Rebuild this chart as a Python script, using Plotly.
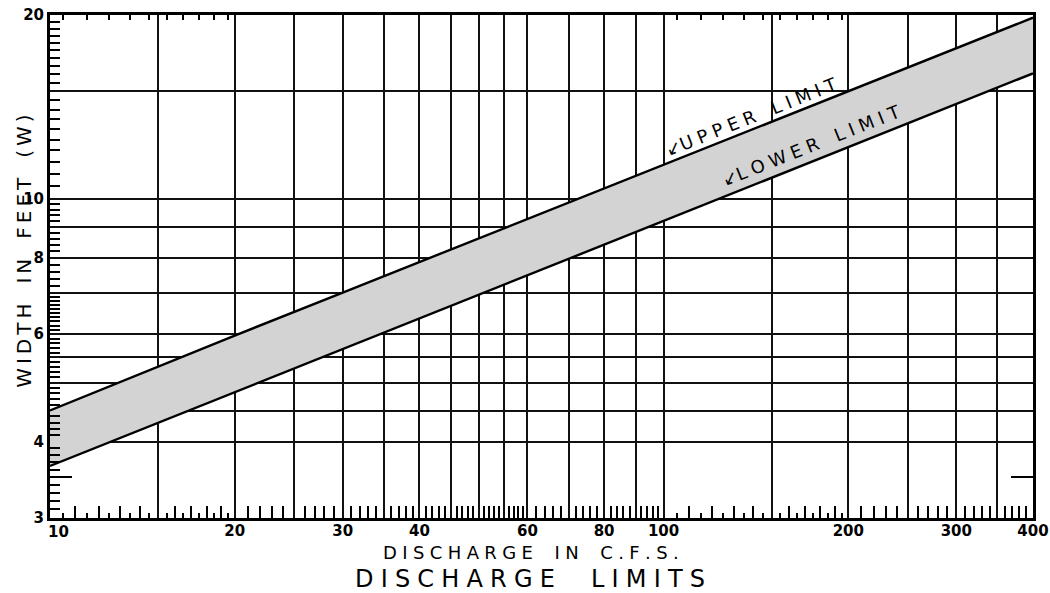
import plotly.graph_objects as go

# ---- data ----
discharge_cfs = [10, 20, 30, 50, 100, 200, 400]
upper_limit_ft = [4.5, 5.97, 7.02, 8.61, 11.37, 15.0, 19.8]
lower_limit_ft = [3.65, 4.82, 5.68, 6.97, 9.2, 12.13, 16.05]

x_grid = [10, 15, 20, 25, 30, 35, 40, 45, 50, 55, 60, 70, 80, 90, 100, 150, 200, 250, 300, 350, 400]
x_labels = ["", "", "20", "", "30", "", "40", "", "", "", "60", "", "80", "", "100", "", "200", "", "300", "", "400"]
x_first_label = "10"
y_grid = [3, 4, 4.5, 5, 5.5, 6, 7, 8, 9, 10, 15, 20]
y_labels = ["3", "4", "", "", "", "6", "", "8", "", "10", "", "20"]

# minor tick marks along the frame
x_long = ([11, 12, 13, 14, 16, 17, 18, 19, 21, 22, 23, 24, 26, 27, 28, 29, 31, 32, 33, 34,
           36, 37, 38, 39, 41, 42, 43, 44, 46, 47, 48, 49, 51, 52, 53, 54, 56, 57, 58, 59,
           62, 64, 66, 68, 72, 74, 76, 78, 82, 84, 86, 88, 92, 94, 96, 98,
           110, 120, 130, 140, 160, 170, 180, 190, 210, 220, 230, 240, 260, 270, 280, 290,
           310, 320, 330, 340, 360, 370, 380, 390])
x_short = [10.5, 11.5, 12.5, 13.5, 14.5, 15.5, 16.5, 17.5, 18.5, 19.5,
           105, 115, 125, 135, 145, 155, 165, 175, 185, 195]
y_ticks = ([round(3 + 0.1 * i, 2) for i in range(1, 10) if i != 5]
           + [round(4 + 0.1 * i, 2) for i in range(1, 10) if i != 5]
           + [round(5 + 0.1 * i, 2) for i in range(1, 10) if i != 5]
           + [round(6 + 0.1 * i, 2) for i in range(1, 10)]
           + [round(7 + 0.2 * i, 2) for i in range(1, 5)]
           + [round(8 + 0.2 * i, 2) for i in range(1, 10) if i != 5]
           + [round(10 + 0.5 * i, 2) for i in range(1, 20) if i != 10])
y_long = [3.5]

FONT = "DejaVu Sans"


def spaced(s, sep="\u2009", wsep="\u2003"):
    return wsep.join(sep.join(w) for w in s.split(" "))


fig = go.Figure()
fig.add_trace(go.Scatter(x=discharge_cfs, y=lower_limit_ft, mode="lines",
                         line=dict(color="black", width=2.4), showlegend=False,
                         hoverinfo="skip"))
fig.add_trace(go.Scatter(x=discharge_cfs, y=upper_limit_ft, mode="lines",
                         line=dict(color="black", width=2.4), fill="tonexty",
                         fillcolor="rgb(211,211,211)", showlegend=False,
                         hoverinfo="skip"))
# invisible trace to activate overlay axes
fig.add_trace(go.Scatter(x=[10, 400], y=[3, 20], mode="markers", marker=dict(opacity=0),
                         xaxis="x2", yaxis="y2", showlegend=False, hoverinfo="skip"))

xr = [1, 2.6020599913]
yr = [0.4771212547, 1.3010299957]

fig.update_layout(
    width=1050, height=593,
    margin=dict(l=50, r=17, t=15, b=75, autoexpand=False),
    paper_bgcolor="white", plot_bgcolor="white",
    font=dict(family=FONT, color="black", size=15),
    xaxis=dict(type="log", range=xr, tickmode="array", tickvals=x_grid, ticktext=x_labels,
               showgrid=True, gridcolor="#111", gridwidth=1.5, ticks="", automargin=False,
               showline=True, linecolor="black", linewidth=3, mirror=True,
               zeroline=False, tickfont=dict(size=15, family=FONT, weight=600),
               ticklabelstandoff=-3,
               minor=dict(tickmode="array", tickvals=x_long, ticks="inside", ticklen=12,
                          tickwidth=1.8, tickcolor="black", showgrid=False)),
    yaxis=dict(type="log", range=yr, tickmode="array", tickvals=y_grid, ticktext=y_labels,
               showgrid=True, gridcolor="#111", gridwidth=1.5, ticks="", automargin=False,
               showline=True, linecolor="black", linewidth=3, mirror=True,
               zeroline=False, tickfont=dict(size=15, family=FONT, weight=600),
               minor=dict(tickmode="array", tickvals=y_ticks, ticks="inside", ticklen=10,
                          tickwidth=1.8, tickcolor="black", showgrid=False)),
    xaxis2=dict(type="log", range=xr, overlaying="x", anchor="y2", side="bottom",
                tickmode="array", tickvals=x_short, ticks="inside", ticklen=5, automargin=False,
                tickwidth=1.8, tickcolor="black", showticklabels=False, showgrid=False,
                showline=True, linecolor="black", linewidth=3, mirror="ticks", zeroline=False),
    yaxis2=dict(type="log", range=yr, overlaying="y", anchor="x2", side="left",
                tickmode="array", tickvals=y_long, ticks="inside", ticklen=22, automargin=False,
                tickwidth=1.8, tickcolor="black", showticklabels=False, showgrid=False,
                showline=True, linecolor="black", linewidth=3, mirror="ticks", zeroline=False),
)

# first x tick label, nudged right of the corner as in the reference
fig.add_annotation(x=1, y=-0.028, xref="x", yref="paper", text=x_first_label,
                   showarrow=False, xanchor="left", yanchor="middle", xshift=-4,
                   font=dict(size=15, family=FONT, weight=600))

fig.add_annotation(x=2.144, y=1.134, xref="x", yref="y",
                   text="\u2199" + spaced("UPPER LIMIT", "\u2009\u200a", "\u2003"),
                   showarrow=False, textangle=-21.7, font=dict(size=18, family=FONT))
fig.add_annotation(x=2.240, y=1.088, xref="x", yref="y",
                   text="\u2199" + spaced("LOWER LIMIT", "\u2009\u200a", "\u2003"),
                   showarrow=False, textangle=-21.7, font=dict(size=18, family=FONT))

fig.add_annotation(x=0.489, y=-0.068, xref="paper", yref="paper",
                   text=spaced("DISCHARGE IN C.F.S.", "\u2009\u200a", "\u2003\u2009"),
                   showarrow=False, font=dict(size=18, family=FONT), yanchor="middle")
fig.add_annotation(x=0.488, y=-0.121, xref="paper", yref="paper",
                   text=spaced("DISCHARGE LIMITS", "\u2009\u200a", "\u2003\u2002"),
                   showarrow=False, font=dict(size=24, family=FONT), yanchor="middle")
fig.add_annotation(x=-0.0265, y=0.531, xref="paper", yref="paper",
                   text=spaced("WIDTH IN FEET (W)", "\u2009", "\u2003"),
                   showarrow=False, textangle=-90,
                   font=dict(size=20, family=FONT), xanchor="center", yanchor="middle")

fig.write_html("out.html", post_script="document.body.style.margin='0px';",
               config={"displayModeBar": False})
